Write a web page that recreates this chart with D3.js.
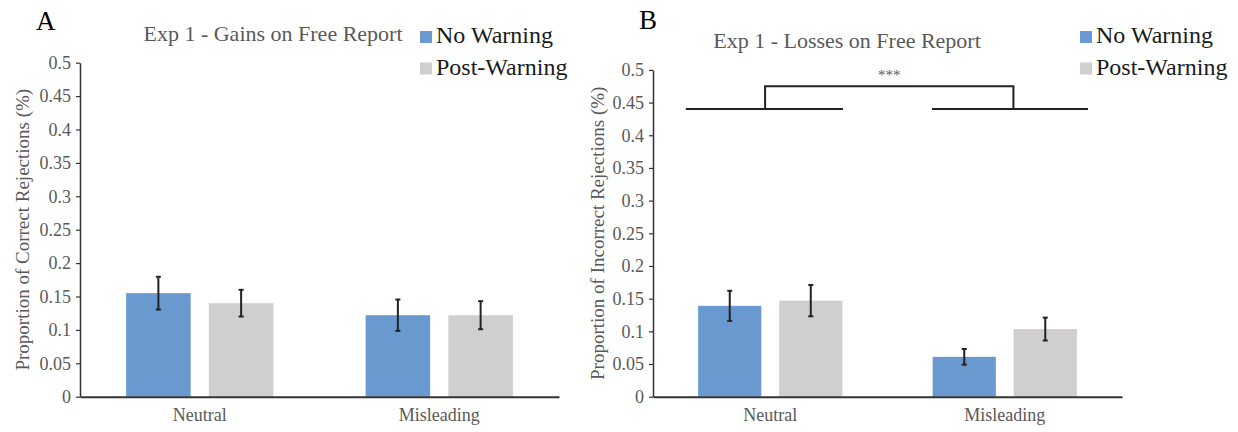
<!DOCTYPE html>
<html>
<head>
<meta charset="utf-8">
<script src="https://cdn.jsdelivr.net/npm/d3@7"></script>
<style>
  html, body { margin: 0; padding: 0; background: #fff; }
  svg { display: block; }
  text { font-family: "Liberation Serif", "Times New Roman", serif; }
</style>
</head>
<body>
<svg id="chart" width="1238" height="432"></svg>
<script>
// ---- data ----
const categories = ["Neutral", "Misleading"];
const series = ["No Warning", "Post-Warning"];
const seriesColors = ["#6999cf", "#d0cece"];
const yTicks = [0, 0.05, 0.1, 0.15, 0.2, 0.25, 0.3, 0.35, 0.4, 0.45, 0.5];

const gainsNoWarning = [0.155, 0.122];
const gainsPostWarning = [0.140, 0.122];
const gainsNoWarningErr = [0.0245, 0.0235];
const gainsPostWarningErr = [0.020, 0.021];

const lossesNoWarning = [0.139, 0.061];
const lossesPostWarning = [0.147, 0.1035];
const lossesNoWarningErr = [0.023, 0.012];
const lossesPostWarningErr = [0.024, 0.0175];

// significance bracket for panel B (positions in category units, levels in data units)
const bracketLevels = [0.44, 0.475];
const bracketLeftLine = [-0.36, 0.31];
const bracketRightLine = [0.69, 1.355];
const bracketArms = [-0.022, 1.037];
const bracketLabel = "***";

const svg = d3.select("#chart");

function drawPanel(cfg) {
  const g = svg.append("g");
  const x0 = d3.scaleBand().domain(categories).range(cfg.xRange)
    .paddingInner(0.385).paddingOuter(0.1925);
  const x1 = d3.scaleBand().domain(series).range([0, x0.bandwidth()]).paddingInner(0.22);
  const y = d3.scaleLinear().domain([0, 0.5]).range(cfg.yRange);

  const rows = [];
  categories.forEach((c, i) => {
    rows.push({c, s: series[0], v: cfg.v1[i], e: cfg.e1[i], color: seriesColors[0]});
    rows.push({c, s: series[1], v: cfg.v2[i], e: cfg.e2[i], color: seriesColors[1]});
  });

  // bars
  g.selectAll("rect.bar").data(rows).enter().append("rect")
    .attr("class", "bar")
    .attr("x", d => x0(d.c) + x1(d.s))
    .attr("width", x1.bandwidth())
    .attr("y", d => y(d.v))
    .attr("height", d => y(0) - y(d.v))
    .attr("fill", d => d.color);

  // error bars
  const eb = g.selectAll("g.err").data(rows).enter().append("g")
    .attr("stroke", "#222").attr("stroke-width", 2);
  const cx = d => x0(d.c) + x1(d.s) + x1.bandwidth() / 2;
  eb.append("line").attr("x1", cx).attr("x2", cx)
    .attr("y1", d => y(d.v + d.e)).attr("y2", d => y(d.v - d.e));
  eb.append("line").attr("x1", d => cx(d) - 2.5).attr("x2", d => cx(d) + 2.5)
    .attr("y1", d => y(d.v + d.e)).attr("y2", d => y(d.v + d.e));
  eb.append("line").attr("x1", d => cx(d) - 2.5).attr("x2", d => cx(d) + 2.5)
    .attr("y1", d => y(d.v - d.e)).attr("y2", d => y(d.v - d.e));

  // y axis
  const ya = g.append("g").attr("transform", `translate(${cfg.xRange[0]},0)`)
    .call(d3.axisLeft(y).tickValues(yTicks).tickFormat(d => d3.format("~g")(d)).tickSize(4).tickPadding(5).tickSizeOuter(0));
  ya.select(".domain").attr("stroke", "#333").attr("stroke-width", 1.5);
  ya.selectAll(".tick line").attr("stroke", "#333").attr("stroke-width", 1.2);
  ya.selectAll(".tick text").attr("fill", "#595959").style("font-size", "18px")
    .style("font-family", "'Liberation Serif', serif");

  // x axis
  const xa = g.append("g").attr("transform", `translate(0,${cfg.yRange[0]})`)
    .call(d3.axisBottom(x0).tickSize(0).tickPadding(12).tickSizeOuter(0));
  xa.select(".domain").attr("stroke", "#333").attr("stroke-width", 2);
  xa.selectAll(".tick text").attr("fill", "#595959").style("font-size", "18px")
    .style("font-family", "'Liberation Serif', serif");

  // y label
  const ymid = (cfg.yRange[0] + cfg.yRange[1]) / 2;
  g.append("text").attr("transform", `translate(${cfg.yLabelX},${ymid}) rotate(-90)`)
    .attr("text-anchor", "middle").attr("fill", "#595959").style("font-size", "19px")
    .text(cfg.yLabel);

  // title
  g.append("text").attr("x", cfg.titleX).attr("y", cfg.titleY).attr("text-anchor", "middle")
    .attr("fill", "#595959").style("font-size", "22px").text(cfg.title);

  // panel letter
  g.append("text").attr("x", cfg.letterX).attr("y", cfg.letterY)
    .attr("fill", "#000").style("font-size", "27px").text(cfg.letter);

  // legend
  series.forEach((s, i) => {
    g.append("rect").attr("x", cfg.legendX).attr("y", cfg.legendY + i * 31.5)
      .attr("width", 12).attr("height", 12).attr("fill", seriesColors[i]);
    g.append("text").attr("x", cfg.legendX + 16).attr("y", cfg.legendY + 12 + i * 31.5)
      .attr("fill", "#1a1a1a").style("font-size", "24px").text(s);
  });

  return {x0, y};
}

drawPanel({
  xRange: [80, 559], yRange: [396.7, 62.7],
  v1: gainsNoWarning, v2: gainsPostWarning, e1: gainsNoWarningErr, e2: gainsPostWarningErr,
  yLabel: "Proportion of Correct Rejections (%)", yLabelX: 29,
  title: "Exp 1 - Gains on Free Report", titleX: 273, titleY: 41,
  letter: "A", letterX: 36, letterY: 30,
  legendX: 420, legendY: 31
});

const pb = drawPanel({
  xRange: [653, 1122], yRange: [396.7, 69.9],
  v1: lossesNoWarning, v2: lossesPostWarning, e1: lossesNoWarningErr, e2: lossesPostWarningErr,
  yLabel: "Proportion of Incorrect Rejections (%)", yLabelX: 604,
  title: "Exp 1 - Losses on Free Report", titleX: 847, titleY: 48,
  letter: "B", letterX: 639, letterY: 29,
  legendX: 1080, legendY: 31
});

// significance bracket
const cpos = d3.scaleLinear().domain([0, 1])
  .range(categories.map(c => pb.x0(c) + pb.x0.bandwidth() / 2));
const br = svg.append("g").attr("stroke", "#222").attr("stroke-width", 2).attr("fill", "none");
br.append("line").attr("x1", cpos(bracketLeftLine[0])).attr("x2", cpos(bracketLeftLine[1]))
  .attr("y1", pb.y(bracketLevels[0])).attr("y2", pb.y(bracketLevels[0]));
br.append("line").attr("x1", cpos(bracketRightLine[0])).attr("x2", cpos(bracketRightLine[1]))
  .attr("y1", pb.y(bracketLevels[0])).attr("y2", pb.y(bracketLevels[0]));
br.append("path").attr("d", d3.line()([
  [cpos(bracketArms[0]), pb.y(bracketLevels[0])],
  [cpos(bracketArms[0]), pb.y(bracketLevels[1])],
  [cpos(bracketArms[1]), pb.y(bracketLevels[1])],
  [cpos(bracketArms[1]), pb.y(bracketLevels[0])]
]));
svg.append("text").attr("x", cpos((bracketArms[0] + bracketArms[1]) / 2))
  .attr("y", pb.y(bracketLevels[1]) - 6).attr("text-anchor", "middle")
  .attr("fill", "#595959").style("font-size", "15px").text(bracketLabel);
</script>
</body>
</html>
